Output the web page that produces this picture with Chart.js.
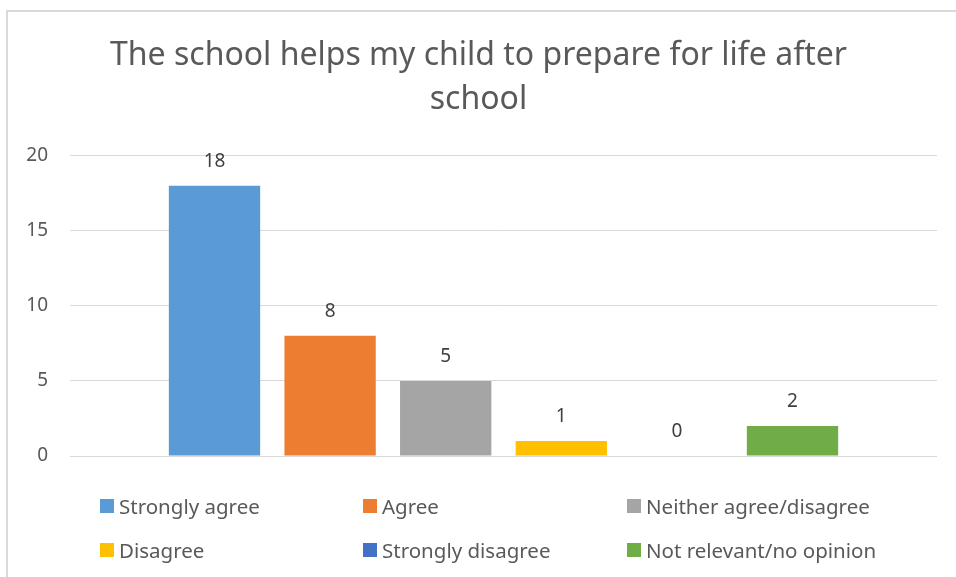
<!DOCTYPE html>
<html>
<head>
<meta charset="utf-8">
<script src="https://cdn.jsdelivr.net/npm/chart.js@4.4.0/dist/chart.umd.min.js"></script>
<style>
  body { margin: 0; background: #fff; font-family: "Noto Sans", sans-serif; }
  #wrap { position: relative; width: 956px; height: 577px; overflow: hidden; }
  #frame { position: absolute; left: 6px; top: 10px; width: 980px; height: 600px; border: 2px solid #d9d9d9; box-sizing: border-box; }
  #c { position: absolute; left: 0; top: 0; }
  #legend { position: absolute; left: 0; top: 0; }
  .item { position: absolute; display: flex; align-items: center; color: #595959; font-size: 20.5px; white-space: nowrap; }
  .box { width: 14px; height: 14px; margin-right: 5px; }
</style>
</head>
<body>
<div id="wrap">
  <div id="frame"></div>
  <canvas id="c" width="956" height="577"></canvas>
  <div id="legend"></div>
</div>
<script>
let titulo = ['The school helps my child to prepare for life after', 'school'];
let respuestas = ['Strongly agree', 'Agree', 'Neither agree/disagree', 'Disagree', 'Strongly disagree', 'Not relevant/no opinion'];
let cantidades = [18, 8, 5, 1, 0, 2];
let colores = ['#5b9bd5', '#ed7d31', '#a5a5a5', '#ffc000', '#4472c4', '#70ad47'];
let ticksY = [0, 5, 10, 15, 20];

let ctx = document.getElementById('c').getContext('2d');

let datasets = [];
for (let i = 0; i < respuestas.length; i++) {
  datasets.push({
    label: respuestas[i],
    data: [cantidades[i]],
    backgroundColor: colores[i],
    borderWidth: 0,
    barPercentage: 0.79,
    categoryPercentage: 0.8
  });
}

// numbers above the bars
let etiquetas = {
  id: 'etiquetas',
  afterDatasetsDraw(chart) {
    let c = chart.ctx;
    c.save();
    c.font = '19px "Noto Sans"';
    c.fillStyle = '#404040';
    c.textAlign = 'center';
    c.textBaseline = 'middle';
    chart.data.datasets.forEach((ds, i) => {
      let bar = chart.getDatasetMeta(i).data[0];
      c.fillText(ds.data[0], bar.x, bar.y - 24);
    });
    c.restore();
  }
};

let chart = new Chart(ctx, {
  type: 'bar',
  data: { labels: [''], datasets: datasets },
  options: {
    responsive: false,
    animation: false,
    layout: { padding: { left: 20, right: 19, top: 10, bottom: 113 } },
    plugins: {
      legend: { display: false },
      tooltip: { enabled: false },
      title: {
        display: true,
        text: titulo,
        color: '#595959',
        font: { family: 'Noto Sans', size: 32, weight: 'normal', lineHeight: 1.4 },
        padding: { top: 23, bottom: 33 }
      }
    },
    scales: {
      x: {
        ticks: { display: false },
        grid: { display: false },
        border: { display: false }
      },
      y: {
        min: 0,
        max: 20,
        afterBuildTicks: (s) => { s.ticks = ticksY.map(v => ({ value: v })); },
        afterFit: (s) => { s.width = 50; },
        ticks: { color: '#595959', font: { family: 'Noto Sans', size: 19 }, padding: 22 },
        grid: { color: '#d9d9d9', drawTicks: false },
        border: { display: false }
      }
    }
  },
  plugins: [etiquetas]
});

// legend in three columns, like the original
let leyenda = document.getElementById('legend');
let colX = [100, 363, 627];
let filaY = [506, 550];
chart.data.datasets.forEach((ds, i) => {
  let d = document.createElement('div');
  d.className = 'item';
  d.style.left = colX[i % 3] + 'px';
  d.style.top = (filaY[Math.floor(i / 3)] - 14) + 'px';
  d.style.height = '28px';
  d.innerHTML = '<span class="box" style="background:' + ds.backgroundColor + '"></span><span>' + ds.label + '</span>';
  leyenda.appendChild(d);
});
</script>
</body>
</html>
